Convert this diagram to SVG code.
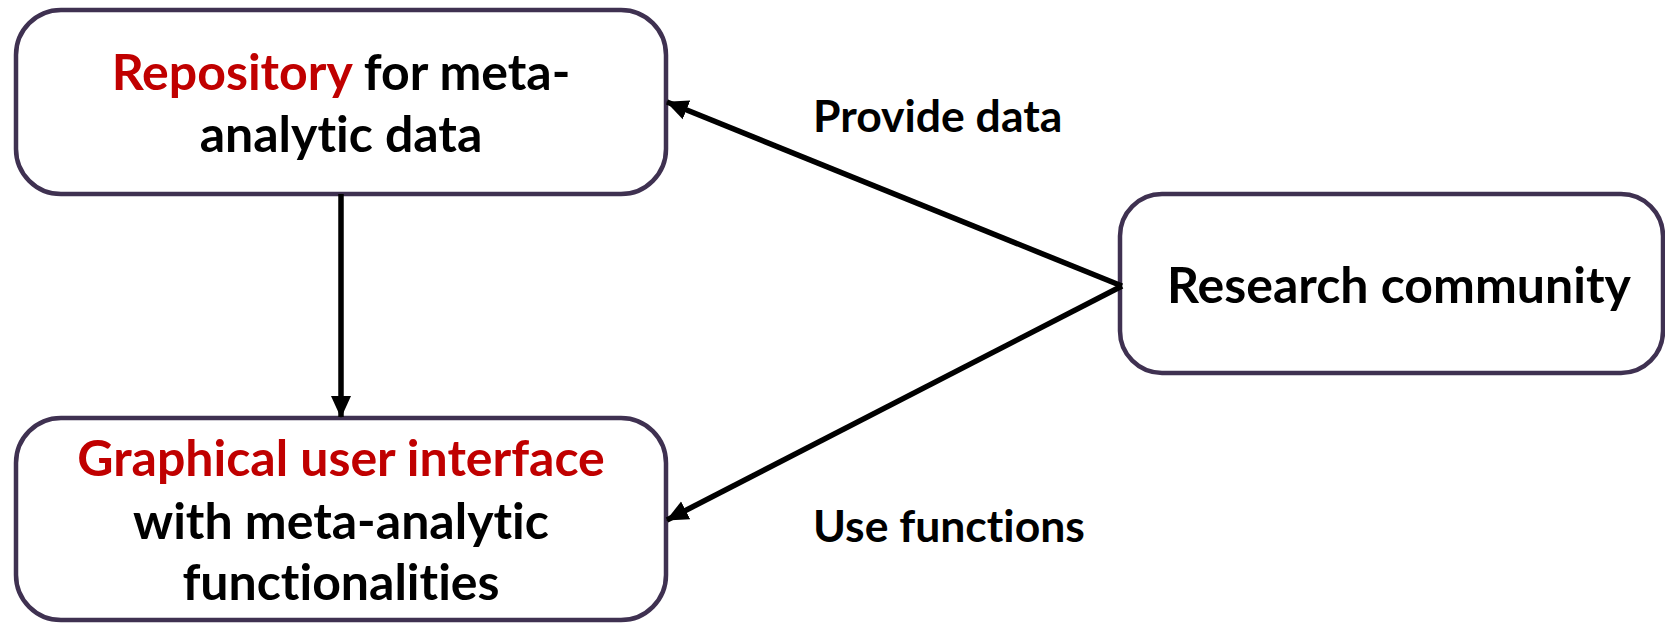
<svg xmlns="http://www.w3.org/2000/svg" width="1665" height="623" viewBox="0 0 1665 623">
<style>
.box{fill:#fff;stroke:#3f3151;stroke-width:4.5}
.t{font-family:Lato,"Open Sans","Liberation Sans",sans-serif;font-weight:bold;font-size:50px;fill:#000;text-anchor:middle;font-variant-ligatures:none}
.r{fill:#c00000}
.lbl{font-family:Lato,"Open Sans","Liberation Sans",sans-serif;font-weight:bold;font-size:44.5px;fill:#000;font-variant-ligatures:none}
.c{stroke:#000;stroke-width:5.5;fill:none}
</style>
<defs>
<marker id="ah" markerUnits="userSpaceOnUse" markerWidth="22" markerHeight="22" viewBox="0 0 22 22" refX="21" refY="11" orient="auto">
<path d="M0,1 L22,11 L0,21 z" fill="#000"/>
</marker>
</defs>
<g id="repo">
<rect class="box" x="16" y="10" width="650" height="184" rx="45"/>
<text class="t" x="341" y="90"><tspan class="r">Repository</tspan> for meta-</text>
<text class="t" x="341" y="152">analytic data</text>
</g>
<g id="gui">
<rect class="box" x="16" y="418" width="650" height="202" rx="45"/>
<text class="t r" x="341" y="476">Graphical user interface</text>
<text class="t" x="341" y="539">with meta-analytic</text>
<text class="t" x="341" y="600">functionalities</text>
</g>
<g id="community">
<rect class="box" x="1120" y="194" width="543" height="179" rx="42"/>
<text class="t" x="1399" y="303">Research community</text>
</g>
<g id="connectors">
<line class="c" x1="341" y1="194" x2="341" y2="417" marker-end="url(#ah)"/>
<line class="c" x1="1122" y1="286" x2="667" y2="102" marker-end="url(#ah)"/>
<line class="c" x1="1122" y1="286" x2="667" y2="520" marker-end="url(#ah)"/>
<text class="lbl" x="813" y="132">Provide data</text>
<text class="lbl" x="813" y="542">Use functions</text>
</g>
</svg>
